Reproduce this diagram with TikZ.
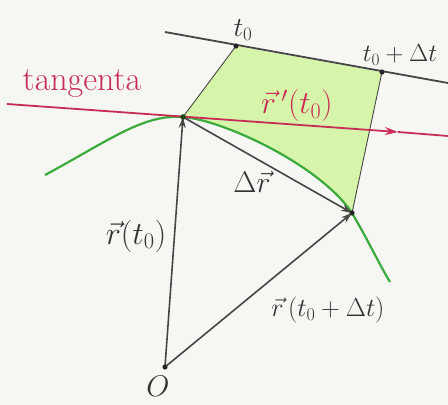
\documentclass[tikz,border=0pt]{standalone}
\usepackage{amsmath,amssymb}
\usepackage{tikz}
\usetikzlibrary{arrows.meta}
\definecolor{mygray}{RGB}{70,70,70}
\definecolor{myred}{RGB}{200,45,85}
\definecolor{mygreen}{RGB}{60,170,60}
\definecolor{myfill}{RGB}{215,245,170}
\definecolor{mypaper}{RGB}{246,246,243}
\tikzset{
    vec/.style={
        -{Stealth[length=11pt,width=7pt]},
        line width=1.6pt,
        mygray
    },
    axis/.style={line width=1.8pt,mygray},
    edge/.style={line width=0.9pt,mygray},
    tang/.style={line width=1.8pt,myred},
    curve/.style={line width=2.2pt,mygreen},
    lab/.style={font=\fontsize{25}{27}\selectfont,text=black!80},
    rlab/.style={font=\fontsize{34}{36}\selectfont,text=myred}
}

\begin{document}
\begin{tikzpicture}[x=1pt,y=-1pt]

\fill[mypaper] (0,0) rectangle (448,405);
\useasboundingbox (0,0) rectangle (448,405);

% Points
\coordinate (O) at (165,367);
\coordinate (P) at (183,117);
\coordinate (Q) at (352,213);
\coordinate (T0) at (236,46);
\coordinate (T1) at (382,72);
\coordinate (axL) at (165,32);
\coordinate (axR) at (448,83);
\coordinate (tanL) at (7,104);
\coordinate (tanE) at (398,132);
\coordinate (tanR) at (448,136);
\coordinate (cL) at (45,175);
\coordinate (cR) at (390,282);

% Green region
\fill[myfill] (T0) -- (T1) -- (Q) .. controls (320,165) and (223,120) .. (P) -- cycle;
\draw[edge] (T0) -- (P);
\draw[edge] (T1) -- (Q);

% Time axis
\draw[axis] (axL) -- (axR);

% Curve
\draw[curve] (cL) .. controls (110,140) and (143,114) .. (P)
    .. controls (223,120) and (320,165) .. (Q)
    .. controls (368,240) and (378,262) .. (cR);

% Tangent
\draw[tang,-{Stealth[length=13pt,width=8pt]}] (tanL) -- (tanE);
\draw[tang] (tanE) -- (tanR);

% Vectors
\draw[vec] (O) -- (P);
\draw[vec] (P) -- (Q);
\draw[vec] (O) -- (Q);

\fill[black!85] (O) circle (2.6pt);
\fill[black!60!mygreen] (P) circle (2.8pt);
\fill[black!85] (Q) circle (2.6pt);
\fill[black!85] (T0) circle (2.6pt);
\fill[black!85] (T1) circle (2.6pt);

% Labels
\node[lab] (lt0) at (243,30) {\scalebox{1.1}{$t_0$}};
\node[lab] (lt1) at (400,55) {\scalebox{1.0}{$t_0+\Delta t$}};
\node[rlab] (ltan) at (82,84) {tangenta};
\node[rlab,font=\fontsize{25}{27}\selectfont] (lder) at (297,106) {\scalebox{1.28}{$\vec{r}\,'(t_0)$}};
\node[lab] (ldr) at (252,182) {\scalebox{1.2}{$\Delta\vec{r}$}};
\node[lab] (lr0) at (136,236) {\scalebox{1.3}{$\vec{r}(t_0)$}};
\node[lab] (lr1) at (328,310) {\scalebox{1.05}{$\vec{r}\,(t_0+\Delta t)$}};
\node[lab] (lO) at (158,386) {\scalebox{1.2}{$O$}};

\end{tikzpicture}
\end{document}
